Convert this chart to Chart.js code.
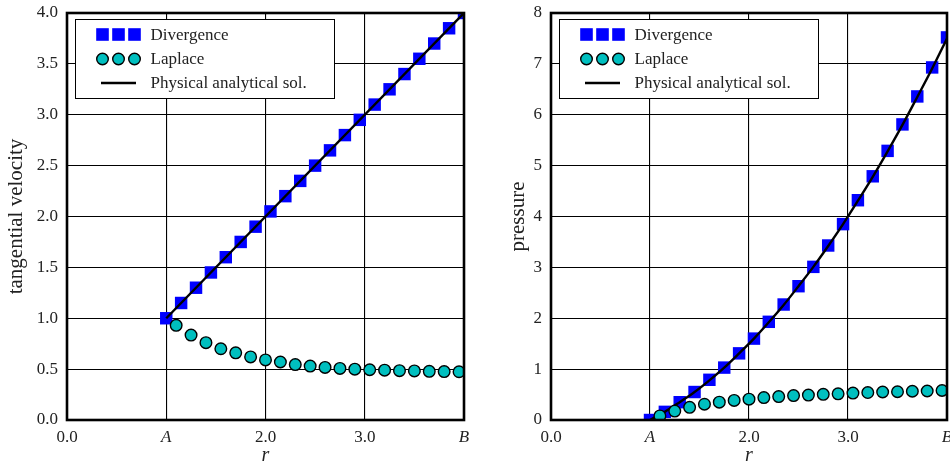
<!DOCTYPE html>
<html>
<head>
<meta charset="utf-8">
<script src="https://cdn.jsdelivr.net/npm/chart.js@4/dist/chart.umd.min.js"></script>
<style>
  html, body { margin: 0; padding: 0; background: #fff; }
  #wrap { position: relative; width: 950px; height: 468px; overflow: hidden; }
  .panel { position: absolute; top: 0; height: 468px; overflow: hidden; }
  #pl { left: 0; width: 475px; }
  #pr { left: 475px; width: 475px; }
  canvas { display: block; }
</style>
</head>
<body>
<div id="wrap">
  <div class="panel" id="pl"><canvas id="cl" width="475" height="468"></canvas></div>
  <div class="panel" id="pr"><canvas id="cr" width="500" height="468"></canvas></div>
</div>
<script>
// Radial positions of the two discretisations
const rDivergence = [1.00, 1.15, 1.30, 1.45, 1.60, 1.75, 1.90, 2.05, 2.20, 2.35, 2.50,
                     2.65, 2.80, 2.95, 3.10, 3.25, 3.40, 3.55, 3.70, 3.85, 4.00];
const rLaplace = [1.10, 1.25, 1.40, 1.55, 1.70, 1.85, 2.00, 2.15, 2.30, 2.45,
                  2.60, 2.75, 2.90, 3.05, 3.20, 3.35, 3.50, 3.65, 3.80, 3.95];

// Tangential velocity
const velDivergence = [1.00, 1.15, 1.30, 1.45, 1.60, 1.75, 1.90, 2.05, 2.20, 2.35, 2.50,
                       2.65, 2.80, 2.95, 3.10, 3.25, 3.40, 3.55, 3.70, 3.85, 4.00];
const velLaplace = [0.93, 0.835, 0.76, 0.70, 0.66, 0.62, 0.59, 0.57, 0.545, 0.53,
                    0.517, 0.507, 0.50, 0.494, 0.49, 0.485, 0.482, 0.478, 0.476, 0.474];
const rVelExact = [1.0, 4.0];
const velExact = [1.0, 4.0];

// Pressure
const presDivergence = [0.00, 0.16, 0.35, 0.55, 0.79, 1.03, 1.31, 1.60, 1.93, 2.27, 2.63,
                        3.01, 3.43, 3.85, 4.32, 4.79, 5.29, 5.81, 6.36, 6.93, 7.52];
const presLaplace = [0.08, 0.175, 0.25, 0.31, 0.35, 0.385, 0.41, 0.44, 0.46, 0.48,
                     0.49, 0.505, 0.515, 0.53, 0.54, 0.55, 0.555, 0.565, 0.57, 0.58];
const rPresExact = [1.00, 1.15, 1.30, 1.45, 1.60, 1.75, 1.90, 2.05, 2.20, 2.35, 2.50,
                    2.65, 2.80, 2.95, 3.10, 3.25, 3.40, 3.55, 3.70, 3.85, 4.00];
const presExact = [0.00, 0.16, 0.35, 0.55, 0.78, 1.03, 1.31, 1.60, 1.92, 2.26, 2.63,
                   3.01, 3.42, 3.85, 4.31, 4.78, 5.28, 5.80, 6.35, 6.91, 7.50];

// Tick labels
const xTickLabels = ['0.0', 'A', '2.0', '3.0', 'B'];
const velTickLabels = ['0.0', '0.5', '1.0', '1.5', '2.0', '2.5', '3.0', '3.5', '4.0'];
const presTickLabels = ['0', '1', '2', '3', '4', '5', '6', '7', '8'];

const seriesNames = ['Divergence', 'Laplace', 'Physical analytical sol.'];

const SERIF = "'Liberation Serif', 'Times New Roman', serif";
const TEXT = '#222';
const BLUE = '#0000ff';
const CYAN = '#00bfbf';

Chart.defaults.font.family = SERIF;
Chart.defaults.color = TEXT;

const zip = (xs, ys) => xs.map((x, i) => ({ x, y: ys[i] }));

// Axes frame drawn over the data, like plot spines
const framePlugin = {
  id: 'frame',
  afterDatasetsDraw(chart) {
    const { ctx, chartArea: a } = chart;
    ctx.save();
    ctx.strokeStyle = '#000';
    ctx.lineWidth = 2.6;
    ctx.strokeRect(a.left, a.top, a.right - a.left, a.bottom - a.top);
    ctx.restore();
  }
};

// Boxed legend with three sample markers per entry
const boxLegendPlugin = {
  id: 'boxLegend',
  afterDraw(chart) {
    const { ctx, chartArea: a } = chart;
    const bx = a.left + 8.5, by = a.top + 6.5, bw = 259, bh = 79;
    ctx.save();
    ctx.fillStyle = '#fff';
    ctx.fillRect(bx, by, bw, bh);
    ctx.strokeStyle = '#000';
    ctx.lineWidth = 1;
    ctx.strokeRect(bx, by, bw, bh);
    const rows = [by + 15, by + 39.5, by + 63.5];
    const mx = [bx + 27, bx + 43, bx + 59];
    // squares
    ctx.fillStyle = BLUE;
    mx.forEach(x => ctx.fillRect(x - 6.3, rows[0] - 6.3, 12.6, 12.6));
    // circles
    mx.forEach(x => {
      ctx.beginPath();
      ctx.arc(x, rows[1], 5.8, 0, Math.PI * 2);
      ctx.fillStyle = CYAN;
      ctx.fill();
      ctx.lineWidth = 1.4;
      ctx.strokeStyle = '#000';
      ctx.stroke();
    });
    // line
    ctx.beginPath();
    ctx.moveTo(bx + 25.5, rows[2]);
    ctx.lineTo(bx + 60.5, rows[2]);
    ctx.lineWidth = 2.4;
    ctx.strokeStyle = '#000';
    ctx.stroke();
    // texts
    ctx.fillStyle = TEXT;
    ctx.font = '17px ' + SERIF;
    ctx.textBaseline = 'middle';
    ctx.textAlign = 'left';
    seriesNames.forEach((t, i) => ctx.fillText(t, bx + 75, rows[i] + 1));
    ctx.restore();
  }
};

function makeChart(id, opt) {
  return new Chart(document.getElementById(id), {
    type: 'scatter',
    data: {
      datasets: [
        {
          label: seriesNames[0],
          data: zip(rDivergence, opt.div),
          pointStyle: 'rect',
          pointRadius: 8.8,
          pointBackgroundColor: BLUE,
          pointBorderWidth: 0,
          pointBorderColor: BLUE,
          showLine: false,
          clip: 0,
          order: 3
        },
        {
          label: seriesNames[1],
          data: zip(rLaplace, opt.lap),
          pointStyle: 'circle',
          pointRadius: 5.8,
          pointBackgroundColor: CYAN,
          pointBorderColor: '#000',
          pointBorderWidth: 1.4,
          showLine: false,
          clip: 0,
          order: 1
        },
        {
          label: seriesNames[2],
          data: zip(opt.exR, opt.ex),
          showLine: true,
          pointRadius: 0,
          borderColor: '#000',
          borderWidth: 2.4,
          cubicInterpolationMode: 'monotone',
          fill: false,
          clip: 0,
          order: 2
        }
      ]
    },
    options: {
      responsive: false,
      animation: false,
      events: [],
      layout: { padding: { left: 0, right: opt.padRight, top: 13, bottom: 0 } },
      plugins: { legend: { display: false }, tooltip: { enabled: false } },
      scales: {
        x: {
          type: 'linear',
          min: 0, max: 4,
          afterFit(s) { s.height = 48; s.paddingLeft = 0; s.paddingRight = 0; },
          afterBuildTicks(s) { s.ticks = [0, 1, 2, 3, 4].map(v => ({ value: v })); },
          grid: { color: '#000', lineWidth: 1.1, drawTicks: false },
          border: { display: false },
          ticks: {
            padding: 7,
            autoSkip: false,
            maxRotation: 0,
            color: TEXT,
            font: c => ({ size: 17, family: SERIF,
                          style: (c.index === 1 || c.index === 4) ? 'italic' : 'normal' }),
            callback: (v, i) => xTickLabels[i]
          },
          title: {
            display: true, text: 'r', color: TEXT,
            font: { size: 20, style: 'italic', family: SERIF },
            padding: { top: 0, bottom: 0 }
          }
        },
        y: {
          type: 'linear',
          min: 0, max: opt.yMax,
          afterFit(s) { s.width = opt.yWidth; s.paddingTop = 0; s.paddingBottom = 0; },
          afterBuildTicks(s) { s.ticks = opt.yTicks.map((t, i) => ({ value: i * opt.yStep })); },
          grid: { color: '#000', lineWidth: 1.1, drawTicks: false },
          border: { display: false },
          ticks: {
            padding: 9,
            autoSkip: false,
            color: TEXT,
            font: { size: 17, family: SERIF },
            callback: (v, i) => opt.yTicks[i]
          },
          title: {
            display: true, text: opt.yTitle, color: TEXT,
            font: { size: 21, family: SERIF },
            padding: { top: opt.titlePad, bottom: 0 }
          }
        }
      }
    },
    plugins: [framePlugin, boxLegendPlugin]
  });
}

makeChart('cl', {
  div: velDivergence, lap: velLaplace, exR: rVelExact, ex: velExact,
  yMax: 4, yStep: 0.5, yTicks: velTickLabels, yTitle: 'tangential velocity',
  yWidth: 67, padRight: 11, titlePad: 4
});

makeChart('cr', {
  div: presDivergence, lap: presLaplace, exR: rPresExact, ex: presExact,
  yMax: 8, yStep: 1, yTicks: presTickLabels, yTitle: 'pressure',
  yWidth: 76, padRight: 28, titlePad: 31
});
</script>
</body>
</html>
